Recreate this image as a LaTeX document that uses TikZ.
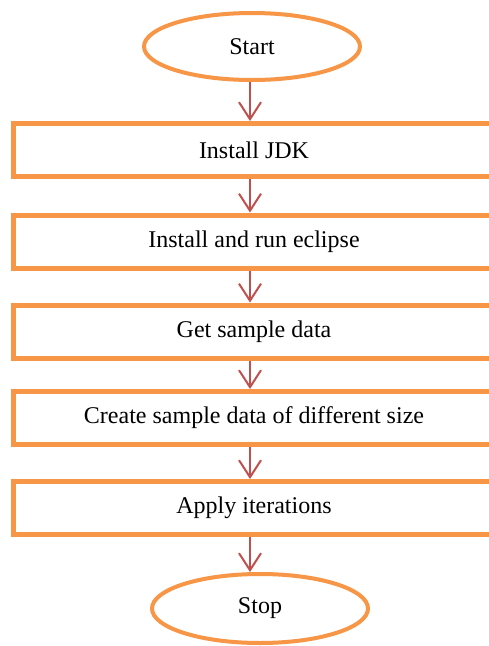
\documentclass[tikz,border=0pt]{standalone}
\usepackage{fontspec}
\setmainfont{Liberation Serif}
\usetikzlibrary{shapes.geometric,arrows.meta}
\definecolor{boxorange}{HTML}{F79646}
\definecolor{arrred}{HTML}{C0504D}
\begin{document}
\begin{tikzpicture}[x=1pt,y=-1pt,
  every node/.style={font=\fontsize{24}{28}\selectfont},
  stepbox/.style={draw=boxorange,line width=5pt,rectangle,minimum width=481pt,minimum height=53pt,inner sep=0pt},
  term/.style={draw=boxorange,line width=4pt,ellipse,minimum width=216pt,minimum height=67pt,inner sep=0pt},
  arr/.style={draw=arrred,line width=2pt,-{Straight Barb[length=17pt,width=22pt,line width=2pt]}}]
\useasboundingbox[fill=white] (0,0) rectangle (488,646);
\coordinate (ax) at (250,0);
\node[term] (start) at (252,46.5) {Start};
\node[stepbox] (b1) at (254,150) {Install JDK};
\node[stepbox] (b2) at (254,241.5) {Install and run eclipse};
\node[stepbox] (b3) at (254,331.5) {Get sample data};
\node[stepbox] (b4) at (254,418) {Create sample data of different size};
\node[stepbox] (b5) at (254,508) {Apply iterations};
\node[term,minimum height=69pt] (stop) at (260,608.5) {Stop};
\draw[arr] (start.south -| ax) -- (b1.north -| ax);
\draw[arr] (b1.south -| ax) -- (b2.north -| ax);
\draw[arr] (b2.south -| ax) -- (b3.north -| ax);
\draw[arr] (b3.south -| ax) -- (b4.north -| ax);
\draw[arr] (b4.south -| ax) -- (b5.north -| ax);
\draw[arr] (b5.south -| ax) -- (stop.north -| ax);
\end{tikzpicture}
\end{document}
